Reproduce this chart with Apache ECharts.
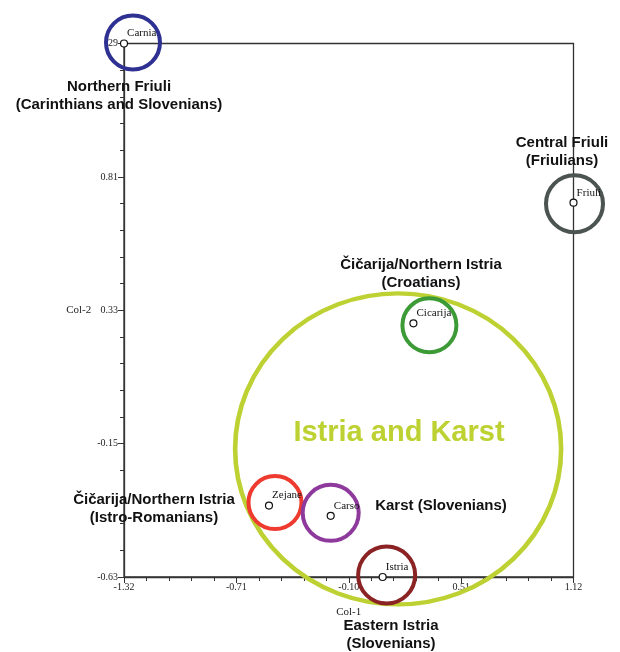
<!DOCTYPE html>
<html>
<head>
<meta charset="utf-8">
<script src="https://cdn.jsdelivr.net/npm/echarts@6/dist/echarts.min.js"></script>
<style>
    html, body { margin: 0; padding: 0; background: #fff; }
    #main { width: 620px; height: 652px; }
</style>
</head>
<body>
<div id="main"></div>
<script>
// point names and coordinates (Col-1, Col-2)
const names = ['Carnia', 'Friuli', 'Cicarija', 'Zejane', 'Carso', 'Istria'];
const col1 = [-1.32, 1.12, 0.251, -0.533, -0.198, 0.084];
const col2 = [1.29, 0.717, 0.283, -0.373, -0.410, -0.63];

// tick labels as printed on the axes
const xTickLabels = ['-1.32', '-0.71', '-0.10', '0.51', '1.12'];
const yTickLabels = ['-0.63', '-0.15', '0.33', '0.81', '29'];

// centre of the big "Istria and Karst" region
const regionCenter = [0.168, -0.169];

// axes start at min, so values are shifted to keep ticks on the interval
const X_OFF = 1.32;
const Y_OFF = 0.63;

// ring styles (one per point)
const ringColors = ['#2e3192', '#4b5450', '#3d9b37', '#ee3a2f', '#8e3a9d', '#8b2325'];
const ringSizes = [54, 57, 54, 53, 56, 57];
const ringOffsets = [[9, -1], [1, 1], [16, 2], [6, -3], [0, -3], [4, -2]];

let chart = echarts.init(document.getElementById('main'));

let points = names.map((n, i) => ({ name: n, value: [col1[i] + X_OFF, col2[i] + Y_OFF] }));

let rings = names.map((n, i) => ({
    name: n,
    value: [col1[i] + X_OFF, col2[i] + Y_OFF],
    symbolSize: ringSizes[i],
    symbolOffset: ringOffsets[i],
    itemStyle: { color: 'rgba(0,0,0,0)', borderColor: ringColors[i], borderWidth: 4, opacity: 1 }
}));

let bold = 'bold 15px "Liberation Sans", Arial, sans-serif';

function note(text, x, y, extra) {
    return Object.assign({
        type: 'text',
        x: x,
        y: y,
        z: 100,
        silent: true,
        style: {
            text: text,
            fill: '#111',
            font: bold,
            lineHeight: 18,
            align: 'center',
            verticalAlign: 'middle'
        }
    }, extra || {});
}

let axisText = { fontFamily: '"Liberation Serif", serif', fontSize: 10, color: '#222' };

let option = {
    animation: false,
    grid: {
        left: 124,
        right: 46.5,
        top: 43.5,
        bottom: 75,
        show: true,
        borderColor: '#333',
        borderWidth: 1.3
    },
    xAxis: {
        type: 'value',
        min: 0,
        max: 2.44,
        interval: 0.61,
        splitLine: { show: false },
        axisLine: { onZero: false, lineStyle: { color: '#333', width: 1.3 } },
        axisTick: { length: 6, lineStyle: { color: '#333' } },
        minorTick: { show: true, splitNumber: 5, length: 4, lineStyle: { color: '#333' } },
        axisLabel: Object.assign({ margin: 5, formatter: (v, i) => xTickLabels[i] }, axisText),
        name: 'Col-1',
        nameLocation: 'middle',
        nameGap: 30,
        nameTextStyle: Object.assign({}, axisText, { fontSize: 11 })
    },
    yAxis: {
        type: 'value',
        min: 0,
        max: 1.92,
        interval: 0.48,
        splitLine: { show: false },
        axisLine: { onZero: false, lineStyle: { color: '#333', width: 1.3 } },
        axisTick: { length: 6, lineStyle: { color: '#333' } },
        minorTick: { show: true, splitNumber: 5, length: 4, lineStyle: { color: '#333' } },
        axisLabel: Object.assign({ margin: 6, formatter: (v, i) => yTickLabels[i] }, axisText),
        name: 'Col-2',
        nameLocation: 'middle',
        nameGap: 28,
        nameRotate: 0,
        nameTextStyle: Object.assign({}, axisText, { fontSize: 11 })
    },
    series: [
        {
            type: 'scatter',
            z: 1,
            silent: true,
            symbol: 'circle',
            data: [{
                value: [regionCenter[0] + X_OFF, regionCenter[1] + Y_OFF],
                symbolSize: [326, 311],
                itemStyle: { color: 'rgba(0,0,0,0)', borderColor: '#bed133', borderWidth: 4.5, opacity: 1 }
            }]
        },
        {
            type: 'scatter',
            z: 2,
            silent: true,
            symbol: 'circle',
            data: rings
        },
        {
            type: 'scatter',
            z: 5,
            symbol: 'circle',
            symbolSize: 7,
            itemStyle: { color: '#fff', borderColor: '#111', borderWidth: 1.2, opacity: 1 },
            label: {
                show: true,
                position: 'right',
                distance: 0,
                offset: [-1, -10],
                formatter: '{b}',
                fontFamily: '"Liberation Serif", serif',
                fontSize: 11,
                color: '#111'
            },
            data: points
        }
    ],
    graphic: [
        note('Northern Friuli\n(Carinthians and Slovenians)', 119, 96),
        note('Central Friuli\n(Friulians)', 562, 152),
        note('Čičarija/Northern Istria\n(Croatians)', 421, 274),
        note('Čičarija/Northern Istria\n(Istro-Romanians)', 154, 509),
        note('Karst (Slovenians)', 441, 506),
        note('Eastern Istria\n(Slovenians)', 391, 635),
        {
            type: 'text',
            x: 399,
            y: 433,
            z: 100,
            silent: true,
            style: {
                text: 'Istria and Karst',
                fill: '#bed133',
                font: 'bold 29px "Liberation Sans", Arial, sans-serif',
                align: 'center',
                verticalAlign: 'middle'
            }
        }
    ]
};

chart.setOption(option);
</script>
</body>
</html>
